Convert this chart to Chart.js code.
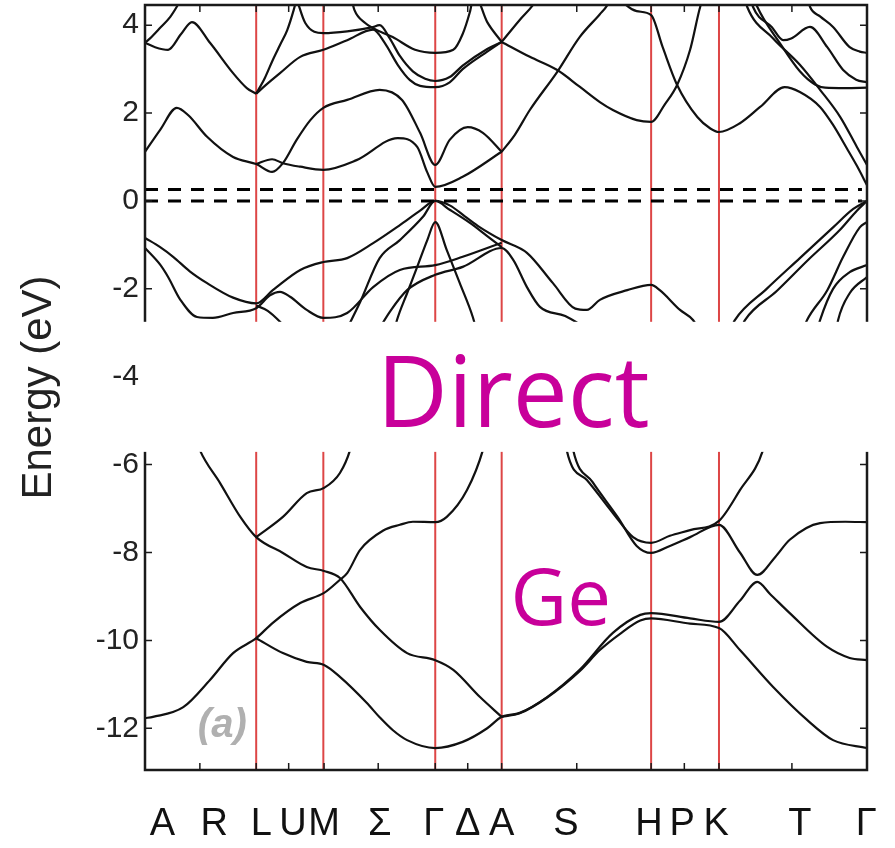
<!DOCTYPE html>
<html>
<head>
<meta charset="utf-8">
<script src="https://cdn.jsdelivr.net/npm/chart.js@4.4.1/dist/chart.umd.min.js"></script>
<style>
    html, body { margin: 0; padding: 0; background: #fff; }
    canvas { display: block; }
</style>
</head>
<body>
<canvas id="bandChart" width="895" height="848"></canvas>
<script>
// k-path: 0 = A (left end), 100 = Gamma (right end)
const tickPos = [0, 7.6, 15.4, 19.9, 24.8, 32.3, 40.2, 44.7, 49.4, 59.8, 70.1, 74.7, 79.5, 89.6, 100];
const labelPos = [2.4, 9.6, 16.1, 20.5, 24.8, 32.5, 40.0, 44.7, 49.4, 58.3, 69.8, 74.4, 79.1, 90.7, 99.9];
const labelText = ['A', 'R', 'L', 'U', 'M', 'Σ', 'Γ', 'Δ', 'A', 'S', 'H', 'P', 'K', 'T', 'Γ'];
const redLines = [15.4, 24.7, 40.2, 49.4, 70.1, 79.5];
const yTicks = [-12, -10, -8, -6, -4, -2, 0, 2, 4];
const gapLines = [0, 0.26];
const yMin = -12.95, yMax = 4.46;
const hiddenBand = [-2.75, -5.71];   // energy window covered by the caption panel

// conduction bands [k, E]
const cbA = [[0, 3.6], [0.7, 3.7], [2.1, 3.94], [3.5, 4.19], [4.4, 4.42], [5.0, 4.6]];
const cbB = [[0, 3.6], [1.4, 3.5], [3.2, 3.44], [5.0, 3.8], [6.5, 4.07], [9.0, 3.6], [12.2, 2.91], [14.1, 2.57], [15.4, 2.44]];
const cbU4 = [[15.4, 2.44], [16.6, 2.8], [17.7, 3.21], [18.7, 3.55], [19.7, 3.89], [20.6, 4.35], [21.0, 4.6]];
const cbU2 = [[21.0, 4.6], [22.2, 4.05], [24.7, 3.82], [28.0, 3.86], [31.4, 3.95], [32.5, 4.0], [33.9, 3.7], [35.3, 3.3], [37.1, 2.95], [38.8, 2.78], [40.2, 2.73], [42.2, 2.82], [44.0, 3.08], [47.4, 3.46], [49.4, 3.62]];
const cbU6 = [[15.4, 2.44], [16.6, 2.62], [18.7, 2.91], [21.5, 3.28], [24.7, 3.44], [28.0, 3.66], [31.6, 3.9], [33.2, 3.6], [35.0, 3.1], [36.7, 2.75], [38.1, 2.62], [40.2, 2.59], [42.2, 2.7], [44.0, 3.0], [47.4, 3.4], [49.4, 3.62]];
const cbU1 = [[28.6, 4.6], [29.0, 4.35], [30.5, 4.05], [31.6, 3.93], [34.3, 3.73], [37.4, 3.44], [40.2, 3.37], [42.7, 3.44], [44.0, 3.8], [45.0, 4.3], [45.6, 4.7], [47.4, 4.07], [49.4, 3.62]];
const cbS3 = [[49.4, 3.62], [51.9, 4.12], [53.7, 4.45], [54.5, 4.65]];
const cbS1 = [[49.4, 3.62], [53.3, 3.28], [57.1, 2.98], [60.2, 2.6], [63.0, 2.25], [64.8, 2.07], [68.1, 1.84], [70.1, 1.8], [72.0, 2.2], [73.7, 2.64], [75.5, 3.44], [76.9, 4.42], [77.3, 4.6]];
const cbS2 = [[49.4, 1.12], [51.2, 1.5], [53.3, 2.07], [57.1, 2.94], [60.2, 3.73], [63.0, 4.25], [64.0, 4.45], [64.4, 4.6]];
const cbS4 = [[65.9, 4.6], [66.7, 4.45], [68.1, 4.32], [70.1, 4.23], [71.7, 3.5], [73.7, 2.64], [76.5, 1.91], [78.3, 1.65], [79.5, 1.57], [82.4, 1.77], [85.2, 2.14], [88.6, 2.59], [90.7, 2.48], [93.5, 2.14], [95.3, 1.73], [97.2, 1.2], [98.6, 0.8], [100, 0.36]];
const cbR1 = [[83.1, 4.6], [83.4, 4.42], [87.0, 3.7], [90.7, 3.1], [93.5, 2.53], [96.3, 1.91], [98.6, 1.23], [100, 0.82]];
const cbR2 = [[83.9, 4.6], [84.2, 4.42], [86.8, 3.96], [88.4, 3.66], [89.5, 3.7], [92.1, 3.96], [94.5, 3.5], [96.7, 2.98], [98.5, 2.76], [100, 2.7]];
const cbR3 = [[84.4, 4.6], [84.8, 4.42], [87.9, 3.6], [90.7, 2.95], [92.8, 2.65], [94.2, 2.58], [97.0, 2.57], [100, 2.58]];
const cbR4 = [[91.8, 4.6], [92.1, 4.42], [93.5, 4.2], [95.3, 3.96], [97.6, 3.5], [99.0, 3.4], [100, 3.37]];
const cb1 = [[0, 1.12], [2.1, 1.62], [4.4, 2.12], [6.0, 1.95], [8.6, 1.46], [12.2, 1.0], [15.4, 0.84], [17.6, 0.66], [19.1, 0.86], [21.0, 1.39], [22.9, 1.84], [24.7, 2.12], [28.0, 2.3], [32.5, 2.53], [35.6, 2.3], [38.1, 1.55], [40.2, 0.82], [42.2, 1.39], [44.7, 1.68], [46.8, 1.55], [49.4, 1.12]];
const cb2 = [[15.4, 0.84], [17.6, 0.95], [19.1, 0.86], [21.5, 0.78], [24.7, 0.71], [29.3, 0.93], [35.0, 1.43], [37.7, 1.23], [39.1, 0.65], [40.2, 0.32], [44.0, 0.55], [49.4, 1.12]];

// valence bands, top group
const vb1 = [[0, -0.84], [2.1, -1.05], [3.9, -1.27], [6.2, -1.6], [8.6, -1.87], [12.2, -2.2], [15.4, -2.33], [17.7, -2.03], [21.5, -1.57], [24.7, -1.39], [28.0, -1.3], [31.6, -0.96], [35.3, -0.55], [38.1, -0.22], [40.2, 0], [42.2, -0.1], [44.3, -0.35], [46.4, -0.6], [49.4, -0.89], [52.9, -1.18], [56.5, -1.87], [59.6, -2.45], [61.2, -2.48], [63.0, -2.25], [66.8, -2.03], [70.1, -1.91], [71.3, -2.03], [74.1, -2.48], [75.9, -2.71], [77.6, -3.2]];
const vb2 = [[0, -1.07], [2.1, -1.45], [3.2, -1.73], [4.9, -2.25], [7.2, -2.64], [9.4, -2.66], [12.2, -2.55], [15.4, -2.44], [17.3, -2.15], [18.7, -2.07], [20.1, -2.18], [22.4, -2.48], [24.7, -2.66], [28.0, -2.55], [31.6, -1.96], [35.3, -1.57], [40.2, -1.46], [44.0, -1.27], [49.4, -0.95]];
const vb3 = [[27.7, -3.0], [29.8, -2.3], [32.5, -1.3], [35.3, -0.89], [38.5, -0.36], [40.2, 0], [42.2, -0.2], [45.0, -0.5], [47.4, -0.8], [49.4, -1.05]];
const vb4 = [[32.1, -3.0], [34.0, -2.5], [36.3, -2.03], [40.2, -1.68], [44.0, -1.5], [49.4, -1.07], [51.0, -1.34], [52.9, -1.96], [54.7, -2.41], [58.2, -2.62], [60.9, -2.9], [63.0, -3.3]];
const vb5 = [[34.3, -3.1], [34.9, -2.71], [36.3, -2.1], [37.7, -1.5], [39.1, -0.89], [40.2, -0.48], [41.8, -1.12], [43.6, -1.87], [45.4, -2.64], [46.0, -3.0]];
const vbL = [[15.4, -2.38], [17.0, -2.5], [18.7, -2.75], [20.5, -3.1]];
const vbR1 = [[81.0, -2.95], [81.7, -2.71], [86.1, -2.0], [90.7, -1.3], [95.3, -0.6], [98.1, -0.18], [100, 0]];
const vbR2 = [[82.4, -2.95], [83.1, -2.71], [87.5, -2.05], [91.8, -1.35], [96.3, -0.65], [98.6, -0.22], [100, 0]];
const vbR3 = [[91.0, -3.0], [91.7, -2.71], [94.5, -2.03], [96.7, -1.27], [99.0, -0.6], [100, -0.48]];
const vbR4 = [[93.0, -3.0], [93.5, -2.71], [95.3, -2.0], [97.6, -1.62], [100, -1.46]];
const vbR5 = [[95.7, -3.0], [96.0, -2.71], [97.6, -2.1], [100, -1.73]];

// valence bands, lower group
const lo1 = [[6.2, -5.0], [7.6, -5.67], [10.4, -6.42], [13.2, -7.19], [15.4, -7.65], [19.1, -8.01], [22.4, -8.33], [24.8, -8.42], [27.0, -8.58], [29.8, -9.24], [32.5, -9.76], [36.3, -10.29], [40.2, -10.45], [42.7, -10.67], [46.4, -11.29], [49.4, -11.74]];
const lo2 = [[0, -11.77], [1.1, -11.74], [5.3, -11.52], [9.0, -10.9], [12.2, -10.29], [15.4, -9.95], [17.7, -9.6], [21.5, -9.15], [24.8, -8.92], [27.0, -8.62], [28.0, -8.47], [29.8, -7.94], [33.0, -7.5], [35.3, -7.37], [37.1, -7.3], [40.2, -7.31], [41.8, -7.19], [44.6, -6.58], [46.8, -5.67], [47.6, -5.1]];
const lo3 = [[15.4, -9.95], [19.1, -10.29], [22.4, -10.49], [24.8, -10.56], [27.0, -10.83], [30.7, -11.42], [32.5, -11.75], [34.3, -12.04], [36.3, -12.27], [40.2, -12.45], [44.0, -12.31], [47.4, -12.0], [49.4, -11.74], [51.9, -11.65], [55.7, -11.29], [60.2, -10.67], [64.8, -9.83], [68.6, -9.42], [70.1, -9.38], [75.5, -9.5], [79.5, -9.58], [82.4, -9.1], [84.8, -8.67], [86.6, -8.95], [89.3, -9.38], [94.5, -10.15], [97.6, -10.4], [100, -10.45]];
const lo4 = [[49.4, -11.74], [51.9, -11.66], [55.7, -11.3], [60.2, -10.7], [63.0, -10.22], [65.8, -9.85], [68.6, -9.55], [70.1, -9.5], [75.5, -9.62], [79.5, -9.72], [82.4, -10.22], [87.0, -11.06], [91.7, -11.81], [95.3, -12.27], [100, -12.45]];
const lo5 = [[15.4, -7.65], [19.1, -7.19], [22.4, -6.65], [24.8, -6.53], [27.0, -6.19], [28.4, -5.67], [29.2, -5.1]];
const lo6 = [[58.0, -5.1], [58.4, -5.67], [61.2, -6.35], [64.8, -7.1], [67.6, -7.65], [70.1, -7.78], [72.7, -7.62], [75.5, -7.49], [79.5, -7.28], [82.4, -6.58], [85.6, -5.67], [86.4, -5.1]];
const lo7 = [[58.8, -5.1], [59.3, -5.67], [62.0, -6.4], [65.5, -7.2], [68.1, -7.85], [70.1, -8.01], [72.7, -7.85], [75.5, -7.65], [79.5, -7.37], [82.4, -8.0], [84.8, -8.51], [87.3, -8.1], [89.3, -7.71], [93.5, -7.33], [97.0, -7.3], [100, -7.31]];

const bands = [cbA, cbB, cbU4, cbU2, cbU6, cbU1, cbS3, cbS1, cbS2, cbS4, cbR1, cbR2, cbR3, cbR4, cb1, cb2,
    vb1, vb2, vb3, vb4, vb5, vbL, vbR1, vbR2, vbR3, vbR4, vbR5,
    lo1, lo2, lo3, lo4, lo5, lo6, lo7];

const tickFont = 'Liberation Sans, Arial, sans-serif';
const toXY = pts => pts.map(p => ({ x: p[0], y: p[1] }));

const datasets = [];
// high-symmetry markers (drawn underneath)
redLines.forEach(k => datasets.push({
    data: [{ x: k, y: yMin }, { x: k, y: yMax }],
    borderColor: 'rgba(215, 38, 38, 0.85)', borderWidth: 2,
    showLine: true, pointRadius: 0, tension: 0, order: 3
}));
bands.forEach(b => datasets.push({
    data: toXY(b),
    borderColor: '#111', borderWidth: 2.2,
    showLine: true, pointRadius: 0, cubicInterpolationMode: 'monotone', order: 2
}));
// band-gap markers
gapLines.forEach(e => datasets.push({
    data: [{ x: 0, y: e }, { x: 99.3, y: e }],
    borderColor: '#000', borderWidth: 3, borderDash: [13, 10],
    showLine: true, pointRadius: 0, tension: 0, order: 1
}));

// frame, inward ticks, caption panel and captions
const overlay = {
    id: 'overlay',
    afterDatasetsDraw(chart) {
        const { ctx, chartArea: a, scales: { x, y } } = chart;
        ctx.save();
        ctx.strokeStyle = '#1a1a1a';
        ctx.lineWidth = 2.5;
        ctx.strokeRect(a.left, a.top, a.right - a.left, a.bottom - a.top);

        ctx.lineWidth = 1.5;
        ctx.beginPath();
        tickPos.slice(1, -1).forEach(k => {
            const px = x.getPixelForValue(k);
            ctx.moveTo(px, a.bottom); ctx.lineTo(px, a.bottom - 7);
            ctx.moveTo(px, a.top); ctx.lineTo(px, a.top + 7);
        });
        yTicks.forEach(e => {
            const py = y.getPixelForValue(e);
            ctx.moveTo(a.left, py); ctx.lineTo(a.left + 7, py);
            ctx.moveTo(a.right, py); ctx.lineTo(a.right - 7, py);
        });
        ctx.stroke();

        const y1 = y.getPixelForValue(hiddenBand[0]);
        const y2 = y.getPixelForValue(hiddenBand[1]);
        ctx.fillStyle = '#fff';
        ctx.fillRect(a.left - 3, y1, chart.width - a.left + 3, y2 - y1);

        ctx.fillStyle = '#c8009a';
        ctx.textAlign = 'center';
        ctx.textBaseline = 'alphabetic';
        ctx.font = '98px "Open Sans", sans-serif';
        ctx.fillText('Direct', x.getPixelForValue(51.0), y.getPixelForValue(-5.14));
        ctx.font = '78px "Open Sans", sans-serif';
        ctx.fillText('Ge', x.getPixelForValue(57.6), y.getPixelForValue(-9.65));

        ctx.fillStyle = '#b0b0b0';
        ctx.font = 'italic bold 40px ' + tickFont;
        ctx.fillText('(a)', x.getPixelForValue(10.7), y.getPixelForValue(-12.2));
        ctx.restore();
    }
};

new Chart(document.getElementById('bandChart').getContext('2d'), {
    type: 'scatter',
    data: { datasets: datasets },
    options: {
        responsive: false,
        animation: false,
        events: [],
        layout: { padding: { left: 0, right: 28, top: 5, bottom: 0 } },
        plugins: { legend: { display: false }, tooltip: { enabled: false } },
        scales: {
            x: {
                type: 'linear', min: 0, max: 100,
                afterBuildTicks: s => { s.ticks = labelPos.map(v => ({ value: v })); },
                afterFit: s => { s.height = 78; s.paddingLeft = 0; s.paddingRight = 0; },
                grid: { display: false, drawTicks: false },
                border: { display: false },
                ticks: {
                    autoSkip: false, maxRotation: 0, padding: 32, color: '#111',
                    font: { family: tickFont, size: 38 },
                    callback: (v, i) => labelText[i]
                }
            },
            y: {
                type: 'linear', min: yMin, max: yMax,
                afterBuildTicks: s => { s.ticks = yTicks.map(v => ({ value: v })); },
                afterFit: s => { s.width = 145; s.paddingTop = 0; s.paddingBottom = 0; },
                grid: { display: false, drawTicks: false },
                border: { display: false },
                ticks: {
                    padding: 6, color: '#222',
                    font: { family: tickFont, size: 30 },
                    callback: v => String(v)
                },
                title: {
                    display: true, text: 'Energy (eV)', color: '#222',
                    font: { family: tickFont, size: 42 },
                    padding: { top: 14 }
                }
            }
        }
    },
    plugins: [overlay]
});
</script>
</body>
</html>
